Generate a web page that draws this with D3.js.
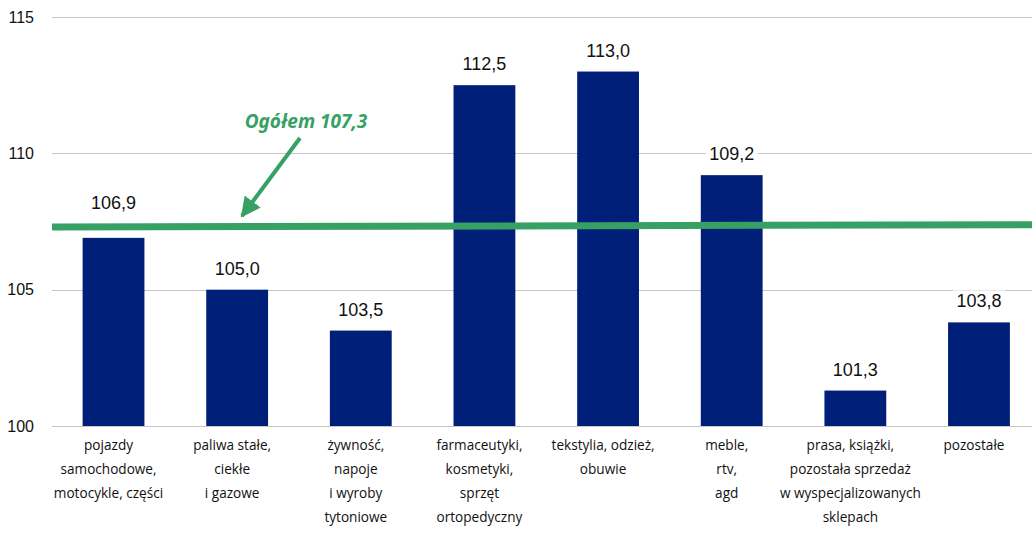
<!DOCTYPE html>
<html><head><meta charset="utf-8">
<script src="https://cdn.jsdelivr.net/npm/d3@7"></script>
<style>
html,body{margin:0;padding:0;background:#fff;}
svg{display:block;}
</style></head>
<body>
<script>
const categories = [
  "pojazdy\nsamochodowe,\nmotocykle, części",
  "paliwa stałe,\nciekłe\ni gazowe",
  "żywność,\nnapoje\ni wyroby\ntytoniowe",
  "farmaceutyki,\nkosmetyki,\nsprzęt\nortopedyczny",
  "tekstylia, odzież,\nobuwie",
  "meble,\nrtv,\nagd",
  "prasa, książki,\npozostała sprzedaż\nw wyspecjalizowanych\nsklepach",
  "pozostałe"
];
const values = [106.9, 105.0, 103.5, 112.5, 113.0, 109.2, 101.3, 103.8];
const yTicks = [100, 105, 110, 115];
const overallValue = 107.3;
const overallLine = [107.3, 107.38];
const overallLabel = "Ogółem 107,3";

const W = 1032, H = 534;
const svg = d3.select("body").append("svg").attr("width", W).attr("height", H);

const y = d3.scaleLinear().domain([100, 115]).range([426, 17]);
const x = d3.scaleBand().domain(categories).range([51.7, 1040.8]).paddingInner(0.5).paddingOuter(0.25);
const fmt = v => v.toFixed(1).replace(".", ",");
const green = "#37a064";

// gridlines
svg.append("g").selectAll("line").data(yTicks).join("line")
  .attr("x1", 52).attr("x2", W)
  .attr("y1", d => Math.round(y(d)) + 0.5).attr("y2", d => Math.round(y(d)) + 0.5)
  .attr("stroke", "#c6c6c6").attr("stroke-width", 1);

// y tick labels
svg.append("g").selectAll("text").data(yTicks).join("text")
  .attr("x", 34).attr("y", d => y(d)).attr("dy", "0.36em")
  .attr("text-anchor", "end")
  .attr("font-family", "'Liberation Sans', Arial, sans-serif")
  .attr("font-size", 16).attr("fill", "#111")
  .text(d => d);

// bars
svg.append("g").selectAll("rect").data(values).join("rect")
  .attr("x", (d, i) => x(categories[i])).attr("width", x.bandwidth())
  .attr("y", d => y(d)).attr("height", d => y(100) - y(d))
  .attr("fill", "#001f78");

// value labels with white background; labels move above the overall line if they would hit it
const lineY = y(overallValue);
const labelBase = d => {
  const b = y(d) - 15;
  return (b > lineY - 18 && b - 14 < lineY + 4) ? lineY - 18 : b;
};
const lg = svg.append("g").selectAll("g").data(values).join("g")
  .attr("transform", (d, i) => `translate(${x(categories[i]) + x.bandwidth() / 2},${labelBase(d)})`);
lg.append("rect").attr("x", -26).attr("y", -17).attr("width", 52).attr("height", 22).attr("fill", "#fff");
lg.append("text").attr("text-anchor", "middle")
  .attr("font-family", "'Liberation Sans', Arial, sans-serif")
  .attr("font-size", 18).attr("fill", "#111")
  .text(d => fmt(d));

// category labels
const cg = svg.append("g").selectAll("text").data(categories).join("text")
  .attr("transform", d => `translate(${x(d) + x.bandwidth() / 2 - 5},450)`)
  .attr("text-anchor", "middle")
  .attr("font-family", "'Open Sans', 'Noto Sans', sans-serif")
  .attr("font-size", 13.6).attr("fill", "#111");
cg.selectAll("tspan").data(d => d.split("\n")).join("tspan")
  .attr("x", 0).attr("dy", (d, i) => i === 0 ? 0 : 24)
  .text(d => d);

// overall line
svg.append("line")
  .attr("x1", 52).attr("x2", W)
  .attr("y1", y(overallLine[0])).attr("y2", y(overallLine[1]))
  .attr("stroke", green).attr("stroke-width", 7);

// annotation
svg.append("defs").append("marker")
  .attr("id", "ah").attr("viewBox", "0 0 10 10").attr("refX", 9).attr("refY", 5)
  .attr("markerWidth", 5).attr("markerHeight", 5).attr("markerUnits", "strokeWidth")
  .attr("orient", "auto")
  .append("path").attr("d", "M0,0 L10,5 L0,10 z").attr("fill", green);
svg.append("line")
  .attr("x1", 300).attr("y1", 138)
  .attr("x2", 242).attr("y2", y(overallValue) - 11)
  .attr("stroke", green).attr("stroke-width", 4)
  .attr("marker-end", "url(#ah)");
svg.append("text")
  .attr("x", 306).attr("y", 128)
  .attr("text-anchor", "middle")
  .attr("font-family", "'Noto Sans', 'Open Sans', sans-serif")
  .attr("font-weight", "bold").attr("font-style", "italic")
  .attr("font-size", 19).attr("fill", green)
  .text(overallLabel);
</script>
</body></html>
